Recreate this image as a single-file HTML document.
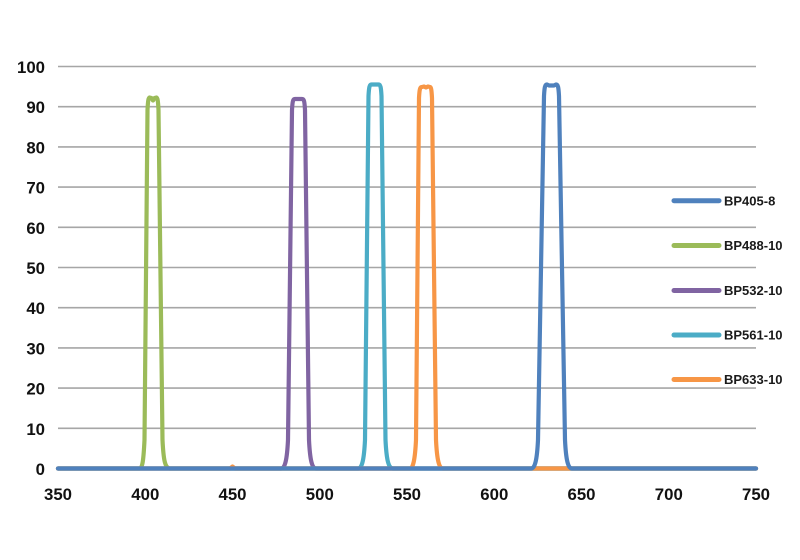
<!DOCTYPE html>
<html>
<head>
<meta charset="utf-8">
<style>
  html, body { margin: 0; padding: 0; background: #ffffff; }
  svg { display: block; }
  .ty { font-family: "Liberation Sans", Arial, sans-serif; font-weight: bold; font-size: 16.8px; fill: #111; }
  .lg { font-family: "Liberation Sans", Arial, sans-serif; font-weight: bold; font-size: 13px; fill: #1a1a1a; }
</style>
</head>
<body>
<svg width="800" height="560" viewBox="0 0 800 560" xmlns="http://www.w3.org/2000/svg">
  <rect x="0" y="0" width="800" height="560" fill="#ffffff"/>

  <!-- gridlines -->
  <g stroke="#a6a6a6" stroke-width="1.6">
    <line x1="58" y1="66.5" x2="756" y2="66.5"/>
    <line x1="58" y1="106.7" x2="756" y2="106.7"/>
    <line x1="58" y1="146.9" x2="756" y2="146.9"/>
    <line x1="58" y1="187.1" x2="756" y2="187.1"/>
    <line x1="58" y1="227.3" x2="756" y2="227.3"/>
    <line x1="58" y1="267.5" x2="756" y2="267.5"/>
    <line x1="58" y1="307.7" x2="756" y2="307.7"/>
    <line x1="58" y1="347.9" x2="756" y2="347.9"/>
    <line x1="58" y1="388.1" x2="756" y2="388.1"/>
    <line x1="58" y1="428.3" x2="756" y2="428.3"/>
    <line x1="58" y1="469.5" x2="756" y2="469.5"/>
  </g>

  <!-- y tick labels -->
  <g class="ty" text-anchor="end">
    <text x="45" y="73">100</text>
    <text x="45" y="113.2">90</text>
    <text x="45" y="153.4">80</text>
    <text x="45" y="193.6">70</text>
    <text x="45" y="233.8">60</text>
    <text x="45" y="274">50</text>
    <text x="45" y="314.2">40</text>
    <text x="45" y="354.4">30</text>
    <text x="45" y="394.6">20</text>
    <text x="45" y="434.8">10</text>
    <text x="45" y="475">0</text>
  </g>

  <!-- x tick labels -->
  <g class="ty" text-anchor="middle">
    <text x="58" y="500">350</text>
    <text x="145.3" y="500">400</text>
    <text x="232.5" y="500">450</text>
    <text x="319.8" y="500">500</text>
    <text x="407" y="500">550</text>
    <text x="494.3" y="500">600</text>
    <text x="581.5" y="500">650</text>
    <text x="668.8" y="500">700</text>
    <text x="756" y="500">750</text>
  </g>

  <!-- series -->
  <g fill="none" stroke-width="4.2" stroke-linejoin="round" stroke-linecap="round">
    <!-- green -->
    <path stroke="#9bbb59" d="M58,468.5 L139.5,468.5 C142.5,468.5 143.5,460 144.5,440 L147.5,110 C148,100 148.5,98 149.5,97.5 L151.5,98 L153,100.5 L154.5,98 L156.5,97.5 C157.5,98 158,100 158.5,110 L162.5,440 C163.5,460 165,468.5 170,468.5 L756,468.5"/>
    <!-- purple -->
    <path stroke="#8064a2" d="M58,468.5 L281,468.5 C285,468.5 287,460 288,440 L292,110 C292.5,101 293,99 295,99 L302,99 C304,99 304.5,101 305,110 L309,440 C310,460 312,468.5 316,468.5 L756,468.5"/>
    <!-- cyan -->
    <path stroke="#4bacc6" d="M58,468.5 L358,468.5 C362,468.5 364,460 365,440 L368.5,96 C369,87 369.5,84.5 371.5,84.5 L378.5,84.5 C380.5,84.5 381,87 381.5,96 L385.5,440 C386.5,460 388.5,468.5 393,468.5 L756,468.5"/>
    <!-- orange -->
    <path stroke="#f79646" d="M58,468.5 L230,468.5 L232.5,466.5 L235,468.5 L410,468.5 C413,468.5 415,460 416,440 L419,98 C419.5,89 420,87 422,87 L424,86.5 L426,87.5 L428,86.5 L430,87 C431,87 431.5,89 432,98 L436,440 C437,460 439,468.5 443,468.5 L756,468.5"/>
    <!-- blue -->
    <path stroke="#4f81bd" d="M58,468.5 L531,468.5 C535,468.5 537,460 538,440 L544,96 C544.5,87 545,84.5 547,84.5 L549,85.5 L554,85.5 L556,84.5 C558,84.5 558.5,87 559,96 L565,440 C566,460 568,468.5 572,468.5 L756,468.5"/>
  </g>

  <!-- legend -->
  <g stroke-width="5" stroke-linecap="round">
    <line x1="674" y1="200.7" x2="719" y2="200.7" stroke="#4f81bd"/>
    <line x1="674" y1="245.5" x2="719" y2="245.5" stroke="#9bbb59"/>
    <line x1="674" y1="290.5" x2="719" y2="290.5" stroke="#8064a2"/>
    <line x1="674" y1="335" x2="719" y2="335" stroke="#4bacc6"/>
    <line x1="674" y1="379.5" x2="719" y2="379.5" stroke="#f79646"/>
  </g>
  <g class="lg">
    <text x="724" y="205.4">BP405-8</text>
    <text x="724" y="250.2">BP488-10</text>
    <text x="724" y="295.2">BP532-10</text>
    <text x="724" y="339.7">BP561-10</text>
    <text x="724" y="384.2">BP633-10</text>
  </g>
</svg>
</body>
</html>
